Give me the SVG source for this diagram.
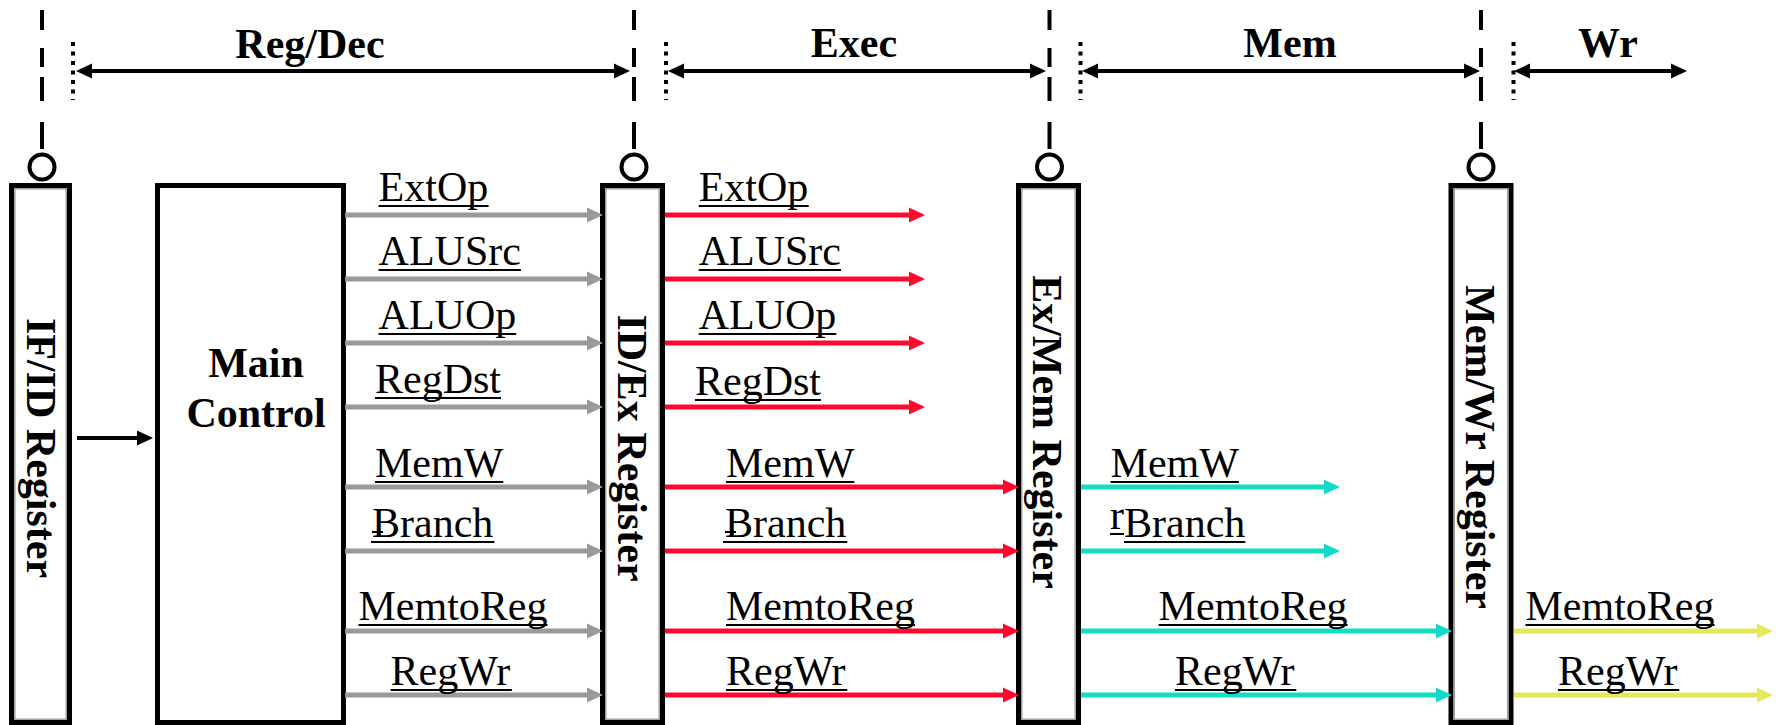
<svg xmlns="http://www.w3.org/2000/svg" width="1781" height="725" viewBox="0 0 1781 725">
  <style>
    .sig { font-family: "Liberation Serif", "Times New Roman", serif; font-size: 42px; fill: #000; }
    .bold { font-family: "Liberation Serif", "Times New Roman", serif; font-size: 42px; font-weight: bold; fill: #000; }
    .ul { stroke: #000; stroke-width: 2; fill: none; }
    .reg { fill: #fff; stroke: #000; stroke-width: 5; }
    .reg-in { fill: none; stroke: #a0a0a0; stroke-width: 1.5; }
    .clk { fill: none; stroke: #000; stroke-width: 4; }
    .dots { fill: none; stroke: #000; stroke-width: 4; stroke-dasharray: 4 5.5; }
    .bubble { fill: #fff; stroke: #000; stroke-width: 4; }
    .span { fill: none; stroke: #000; stroke-width: 4; marker-start: url(#ah-black); marker-end: url(#ah-black); }
    .w { fill: none; stroke-width: 5; }
    .gray { stroke: #9a9a9a; marker-end: url(#ah-gray); }
    .red { stroke: #ff0a2d; marker-end: url(#ah-red); }
    .cyan { stroke: #12dcc8; marker-end: url(#ah-cyan); }
    .yellow { stroke: #e6e85a; marker-end: url(#ah-yellow); }
  </style>
  <defs>
    <marker id="ah-black" viewBox="0 0 16 16" refX="0" refY="8" markerWidth="16" markerHeight="16" markerUnits="userSpaceOnUse" orient="auto-start-reverse">
      <path d="M0,0.5 L16,8 L0,15.5 z" fill="#000"/>
    </marker>
    <marker id="ah-gray" viewBox="0 0 16 16" refX="0" refY="8" markerWidth="16" markerHeight="16" markerUnits="userSpaceOnUse" orient="auto">
      <path d="M0,0.5 L16,8 L0,15.5 z" fill="#9a9a9a"/>
    </marker>
    <marker id="ah-red" viewBox="0 0 16 16" refX="0" refY="8" markerWidth="16" markerHeight="16" markerUnits="userSpaceOnUse" orient="auto">
      <path d="M0,0.5 L16,8 L0,15.5 z" fill="#ff0a2d"/>
    </marker>
    <marker id="ah-cyan" viewBox="0 0 16 16" refX="0" refY="8" markerWidth="16" markerHeight="16" markerUnits="userSpaceOnUse" orient="auto">
      <path d="M0,0.5 L16,8 L0,15.5 z" fill="#12dcc8"/>
    </marker>
    <marker id="ah-yellow" viewBox="0 0 16 16" refX="0" refY="8" markerWidth="16" markerHeight="16" markerUnits="userSpaceOnUse" orient="auto">
      <path d="M0,0.5 L16,8 L0,15.5 z" fill="#e6e85a"/>
    </marker>
  </defs>

  <rect x="0" y="0" width="1781" height="725" fill="#fff"/>

  <!-- pipeline stage timing -->
  <g id="stages">
    <path class="clk" d="M42,10V30 M42,48V67 M42,77V101 M42,122V149"/>
    <path class="clk" d="M634,10V30 M634,48V67 M634,77V101 M634,122V149"/>
    <path class="clk" d="M1049.5,10V30 M1049.5,48V67 M1049.5,77V101 M1049.5,122V149"/>
    <path class="clk" d="M1481,10V30 M1481,48V67 M1481,77V101 M1481,122V149"/>
    <path class="dots" d="M73,42V100 M666,42V100 M1080.5,42V100 M1513.5,42V100"/>
    <line class="span" x1="92" y1="71" x2="614" y2="71"/>
    <line class="span" x1="684" y1="71" x2="1030" y2="71"/>
    <line class="span" x1="1098" y1="71" x2="1464" y2="71"/>
    <line class="span" x1="1530" y1="71" x2="1671" y2="71"/>
    <text class="bold" x="310" y="58" text-anchor="middle">Reg/Dec</text>
    <text class="bold" x="854" y="57" text-anchor="middle">Exec</text>
    <text class="bold" x="1290" y="57" text-anchor="middle">Mem</text>
    <text class="bold" x="1608" y="57" text-anchor="middle">Wr</text>
    <circle class="bubble" cx="42" cy="167" r="12.5"/>
    <circle class="bubble" cx="634" cy="167" r="12.5"/>
    <circle class="bubble" cx="1049.5" cy="167" r="12.5"/>
    <circle class="bubble" cx="1481" cy="167" r="12.5"/>
  </g>

  <!-- pipeline registers and control unit -->
  <g id="if-id">
    <rect class="reg" x="11.5" y="185.5" width="58" height="537"/>
    <rect class="reg-in" x="14.8" y="188.8" width="51.4" height="530.4"/>
    <text class="bold" transform="translate(27,448) rotate(90)" text-anchor="middle">IF/ID Register</text>
  </g>
  <g id="main-control">
    <rect class="reg" x="157.5" y="185.5" width="186" height="537"/>
    <text class="bold" x="256" y="377" text-anchor="middle">Main</text>
    <text class="bold" x="256" y="427" text-anchor="middle">Control</text>
  </g>
  <g id="id-ex">
    <rect class="reg" x="602.5" y="185.5" width="60" height="537"/>
    <rect class="reg-in" x="605.8" y="188.8" width="53.4" height="530.4"/>
    <text class="bold" transform="translate(618,448) rotate(90)" text-anchor="middle">ID/Ex Register</text>
  </g>
  <g id="ex-mem">
    <rect class="reg" x="1018.5" y="185.5" width="60" height="537"/>
    <rect class="reg-in" x="1021.8" y="188.8" width="53.4" height="530.4"/>
    <text class="bold" transform="translate(1033,432) rotate(90)" text-anchor="middle">Ex/Mem Register</text>
  </g>
  <g id="mem-wr">
    <rect class="reg" x="1451" y="185.5" width="60" height="537"/>
    <rect class="reg-in" x="1454.3" y="188.8" width="53.4" height="530.4"/>
    <text class="bold" transform="translate(1466,447) rotate(90)" text-anchor="middle">Mem/Wr Register</text>
  </g>

  <!-- control signal wires -->
  <g id="connectors">
    <line x1="77" y1="438" x2="137" y2="438" stroke="#000" stroke-width="4" marker-end="url(#ah-black)"/>

    <line class="w gray" x1="345" y1="215" x2="587" y2="215"/>
    <line class="w gray" x1="345" y1="279" x2="587" y2="279"/>
    <line class="w gray" x1="345" y1="343" x2="587" y2="343"/>
    <line class="w gray" x1="345" y1="407" x2="587" y2="407"/>
    <line class="w gray" x1="345" y1="487" x2="587" y2="487"/>
    <line class="w gray" x1="345" y1="551" x2="587" y2="551"/>
    <line class="w gray" x1="345" y1="631" x2="587" y2="631"/>
    <line class="w gray" x1="345" y1="695" x2="587" y2="695"/>

    <line class="w red" x1="665" y1="215" x2="909" y2="215"/>
    <line class="w red" x1="665" y1="279" x2="909" y2="279"/>
    <line class="w red" x1="665" y1="343" x2="909" y2="343"/>
    <line class="w red" x1="665" y1="407" x2="909" y2="407"/>
    <line class="w red" x1="665" y1="487" x2="1003" y2="487"/>
    <line class="w red" x1="665" y1="551" x2="1003" y2="551"/>
    <line class="w red" x1="665" y1="631" x2="1003" y2="631"/>
    <line class="w red" x1="665" y1="695" x2="1003" y2="695"/>

    <line class="w cyan" x1="1081" y1="487" x2="1324" y2="487"/>
    <line class="w cyan" x1="1081" y1="551" x2="1324" y2="551"/>
    <line class="w cyan" x1="1081" y1="631" x2="1436" y2="631"/>
    <line class="w cyan" x1="1081" y1="695" x2="1436" y2="695"/>

    <line class="w yellow" x1="1514" y1="631" x2="1757" y2="631"/>
    <line class="w yellow" x1="1514" y1="695" x2="1757" y2="695"/>
  </g>

  <!-- signal names, each with its underline -->
  <g id="signal-labels">
    <text class="sig" x="378.6" y="201">ExtOp</text>
    <text class="sig" x="378.6" y="265">ALUSrc</text>
    <text class="sig" x="378.6" y="329">ALUOp</text>
    <text class="sig" x="375" y="393">RegDst</text>
    <text class="sig" x="375" y="477">MemW</text>
    <text class="sig" x="372" y="537">Branch</text>
    <text class="sig" x="358.5" y="620">MemtoReg</text>
    <text class="sig" x="390.6" y="685">RegWr</text>
    <path class="ul" d="M378.6,206h110 M378.6,270h142.3 M378.6,334h137.6 M375,398h126 M375,482h128.3 M371,542h123.3 M372,532h11 M358.5,625h189 M390.6,690h121.3"/>

    <text class="sig" x="725" y="537">Branch</text>
    <text class="sig" x="698.7" y="201">ExtOp</text>
    <text class="sig" x="698.7" y="265">ALUSrc</text>
    <text class="sig" x="698.7" y="329">ALUOp</text>
    <text class="sig" x="695" y="395">RegDst</text>
    <text class="sig" x="726" y="477">MemW</text>
    <text class="sig" x="726" y="620">MemtoReg</text>
    <text class="sig" x="726" y="685">RegWr</text>
    <path class="ul" d="M698.7,206h110 M698.7,270h142.3 M698.7,334h137.6 M695,400h126 M726,482h128.3 M723,542h124.3 M725,532h11 M726,625h189 M726,690h121.3"/>

    <text class="sig" x="1110.6" y="477">MemW</text>
    <text class="sig" x="1110" y="529">r</text>
    <text class="sig" x="1124" y="537">Branch</text>
    <text class="sig" x="1158.6" y="620">MemtoReg</text>
    <text class="sig" x="1175" y="685">RegWr</text>
    <path class="ul" d="M1110.6,482h128.3 M1110,534h14 M1124,542h121.3 M1158.6,625h189 M1175,690h121.3"/>

    <text class="sig" x="1525.5" y="620">MemtoReg</text>
    <text class="sig" x="1558" y="685">RegWr</text>
    <path class="ul" d="M1525.5,625h189 M1558,690h121.3"/>
  </g>
</svg>
